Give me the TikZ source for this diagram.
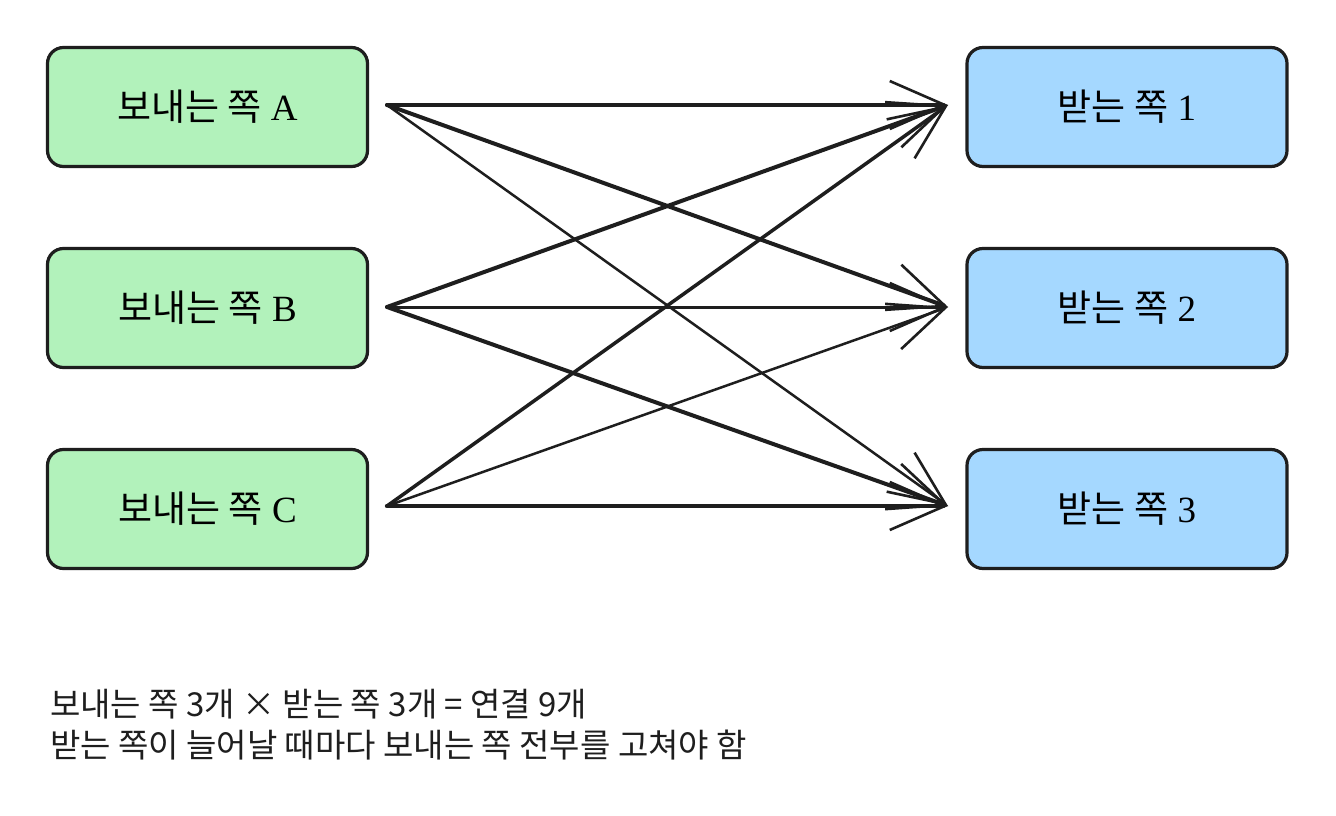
\documentclass[tikz,border=0pt]{standalone}
\usepackage{fontspec}
\setmainfont{Liberation Serif}
\newfontfamily\cjk{Noto Sans CJK KR}
\newfontfamily\cjksans{Noto Sans CJK KR}
\usetikzlibrary{arrows.meta}
\definecolor{ink}{HTML}{1E1E1E}
\definecolor{sendfill}{HTML}{B2F2BB}
\definecolor{recvfill}{HTML}{A5D8FF}
\tikzset{
  box/.style={draw=ink, line width=3.2pt, rounded corners=16pt, minimum width=320pt, minimum height=119pt, inner sep=0pt, font=\fontsize{37}{40}\selectfont},
  sendbox/.style={box, fill=sendfill},
  recvbox/.style={box, fill=recvfill},
  link/.style={draw=ink, line width=4pt, line cap=round, -{Straight Barb[length=55pt,width=48pt,line width=2.6pt]}},
  thinlink/.style={link, line width=2.5pt},
  note/.style={anchor=base west, inner sep=0pt, font=\cjksans\fontsize{33}{38}\selectfont, text=ink}
}
\begin{document}
\begin{tikzpicture}[x=1pt,y=-1pt]
\useasboundingbox[fill=white] (0,0) rectangle (1336,816);
\node[sendbox] (A) at (207.5,107) {\cjk 보내는 쪽\rmfamily\ A};
\node[sendbox] (B) at (207.5,308) {\cjk 보내는 쪽\rmfamily\ B};
\node[sendbox] (C) at (207.5,509) {\cjk 보내는 쪽\rmfamily\ C};
\node[recvbox] (R1) at (1127,107) {\cjk 받는 쪽\rmfamily\ 1};
\node[recvbox] (R2) at (1127,308) {\cjk 받는 쪽\rmfamily\ 2};
\node[recvbox] (R3) at (1127,509) {\cjk 받는 쪽\rmfamily\ 3};
\coordinate (sA) at (387,105);
\coordinate (sB) at (387,307);
\coordinate (sC) at (387,506);
\coordinate (e1) at (948,105);
\coordinate (e2) at (948,307);
\coordinate (e3) at (948,506);
\draw[link] (sA) -- (e1);
\draw[link] (sA) -- (e2);
\draw[thinlink] (sA) -- (e3);
\draw[link] (sB) -- (e1);
\draw[thinlink, line width=3pt] (sB) -- (e2);
\draw[link] (sB) -- (e3);
\draw[link, line width=3.5pt] (sC) -- (e1);
\draw[thinlink] (sC) -- (e2);
\draw[link, line width=4.4pt] (sC) -- (e3);
\node[note] (n1) at (50,716) {보내는 쪽 3개 × 받는 쪽 3개 = 연결 9개};
\node[note] (n2) at (50,757) {받는 쪽이 늘어날 때마다 보내는 쪽 전부를 고쳐야 함};
\end{tikzpicture}
\end{document}
